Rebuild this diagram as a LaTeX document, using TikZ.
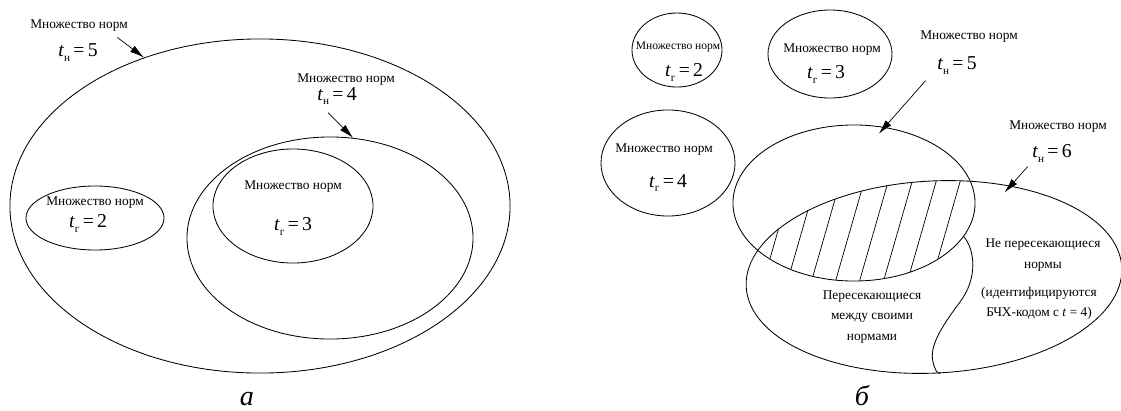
\documentclass[tikz,border=0pt]{standalone}
\usepackage{fontspec}
\setmainfont{Liberation Serif}
\usetikzlibrary{arrows.meta,shapes.geometric,calc}
\newcommand{\tnorm}[2]{\textit{t}\raisebox{-.55ex}{\fontsize{8}{8}\selectfont #1}\,=\,#2}
\tikzset{
  normset/.style 2 args={draw,ellipse,line width=.6pt,inner sep=0pt,minimum width=#1*0.05cm,minimum height=#2*0.05cm},
  normlabel/.style={font=\fontsize{9.5}{11}\selectfont,inner sep=1pt},
  formula/.style={font=\fontsize{14}{16}\selectfont,inner sep=1pt},
  note/.style={font=\fontsize{9.5}{14.4}\selectfont,align=center,inner sep=1pt},
  pointer/.style={-{Latex[length=3.6mm,width=1.9mm]},line width=.5pt},
  hatch/.style={line width=.5pt},
  divide/.style={line width=.6pt},
  panelmark/.style={font=\fontsize{20}{22}\selectfont\itshape,anchor=base}
}
\begin{document}
\begin{tikzpicture}[x=0.025cm,y=-0.025cm]
  \useasboundingbox (0,0) rectangle (1121,410);
  % panel a
  \node[normset={250}{167}] (setA5) at (260,206) {};
  \node[normset={143}{101}] (setA4) at (330,238) {};
  \node[normset={80}{57}] (setA3) at (293,206) {};
  \node[normset={69}{32}] (setA2) at (95,218) {};
  \node[normlabel] (lblA5) at (79,26) {Множество норм};
  \node[formula] (tA5) at (78,53) {\tnorm{н}{5}};
  \node[normlabel] (lblA4) at (346,80) {Множество норм};
  \node[formula] (tA4) at (337,96) {\tnorm{н}{4}};
  \node[normlabel] (lblA3) at (293,187) {Множество норм};
  \node[formula] (tA3) at (293,226) {\tnorm{г}{3}};
  \node[normlabel] (lblA2) at (95,203) {Множество норм};
  \node[formula] (tA2) at (88,223) {\tnorm{г}{2}};
  \draw[pointer] ([shift={(-12,4)}]lblA5.south east) -- (setA5.128);
  \draw[pointer] ([shift={(-9,6)}]tA4.south) -- (setA4.77);
  \node[panelmark] (capA) at (247,405) {а};
  % panel b
  \node[normset={45}{37}] (setB2) at (677,50) {};
  \node[normset={62}{44}] (setB3) at (830,54) {};
  \node[normset={67}{53}] (setB4) at (668,163) {};
  \node[normset={121}{78}] (setB5) at (854,203) {};
  \node[normset={188}{96},rotate=3] (setB6) at (934,277) {};
  \begin{scope}
    \clip (854,203) ellipse [x radius=3.025cm,y radius=1.95cm];
    \clip[rotate around={3:(934,277)}] (934,277) ellipse [x radius=4.7cm,y radius=2.4cm];
    \foreach \hx in {792,816,...,984}
      \draw[hatch] (\hx,182) ++(-46,160) -- ++(92,-320);
  \end{scope}
  \draw[divide] (setB5.-17) .. controls (975,250) and (978,278) .. (960,302)
    .. controls (942,326) and (929,346) .. (933,362)
    .. controls (935,370) and (937,374) .. (setB6.-89);
  \node[normlabel,font=\fontsize{8.2}{10}\selectfont] (lblB2) at (678,47) {Множество норм};
  \node[formula] (tB2) at (684,72) {\tnorm{г}{2}};
  \node[normlabel] (lblB3) at (832,50) {Множество норм};
  \node[formula] (tB3) at (826,74) {\tnorm{г}{3}};
  \node[normlabel] (lblB4) at (664,150) {Множество норм};
  \node[formula] (tB4) at (668,183) {\tnorm{г}{4}};
  \node[normlabel] (lblB5) at (969,37) {Множество норм};
  \node[formula] (tB5) at (957,66) {\tnorm{н}{5}};
  \node[normlabel] (lblB6) at (1058,127) {Множество норм};
  \node[formula] (tB6) at (1052,153) {\tnorm{н}{6}};
  \draw[pointer,shorten >=-2.2mm] ([shift={(-10,4)}]tB5.south west) -- (setB5.68);
  \draw[pointer,shorten >=-2.2mm] ([shift={(-3,3)}]tB6.south west) -- (setB6.47);
  \node[note] (crossing) at (872,317) {Пересекающиеся\\между своими\\нормами};
  \node[note] (apart) at (1043,255) {Не пересекающиеся\\нормы};
  \node[note] (bch) at (1039,303) {(идентифицируются\\БЧХ-кодом с \textit{t}~=~4)};
  \node[panelmark] (capB) at (862,405) {б};
\end{tikzpicture}
\end{document}
